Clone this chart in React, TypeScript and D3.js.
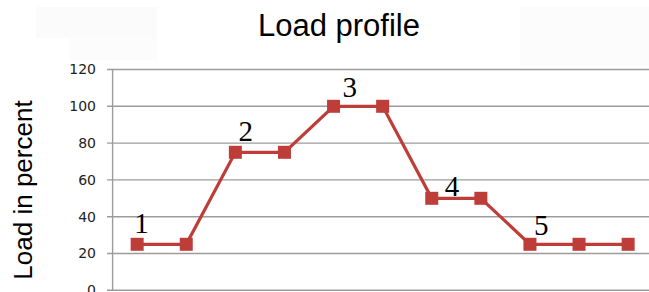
// Load profile line chart: hourly load in percent, with stage numbers
import React, { useEffect, useRef } from 'react';
import * as d3 from 'd3';

const loadValues = [25, 25, 75, 75, 100, 100, 50, 50, 25, 25, 25];
const yTicks = [0, 20, 40, 60, 80, 100, 120];

// stage numbers, placed in data units (category index, value)
const stageLabels = ['1', '2', '3', '4', '5'];
const stageAt = [0.09, 2.21, 4.33, 6.41, 8.23];
const stageValue = [31, 81, 105, 51.5, 30];

const width = 649;
const height = 292;
const red = '#bf3d39';
const grid = '#9c9c9c';

export default function App() {
  const ref = useRef<SVGSVGElement>(null);

  useEffect(() => {
    const svg = d3.select(ref.current);
    svg.selectAll('*').remove();

    const x = d3.scaleLinear().domain([-0.5, loadValues.length - 0.5]).range([112.6, 652.7]);
    const y = d3.scaleLinear().domain([0, 120]).range([290.3, 69.5]);

    // faint panels behind the title area
    svg.append('rect').attr('x', 36).attr('y', 7).attr('width', 121).attr('height', 31).attr('fill', '#fbfbfb');
    svg.append('rect').attr('x', 70).attr('y', 38).attr('width', 87).attr('height', 22).attr('fill', '#fcfcfc');
    svg.append('rect').attr('x', 520).attr('y', 7).attr('width', 129).attr('height', 58).attr('fill', '#fcfcfc');

    svg.append('text')
      .attr('x', 339).attr('y', 36)
      .attr('text-anchor', 'middle')
      .style('font-family', '"Liberation Sans", Arial, sans-serif')
      .style('font-size', '31px')
      .text('Load profile');

    svg.append('text')
      .attr('transform', 'translate(32,190) rotate(-90)')
      .attr('text-anchor', 'middle')
      .style('font-family', '"Liberation Sans", Arial, sans-serif')
      .style('font-size', '26px')
      .text('Load in percent');

    const g = svg.append('g');

    g.selectAll('.grid')
      .data(yTicks)
      .enter().append('line')
      .attr('class', 'grid')
      .attr('x1', 107).attr('x2', width)
      .attr('y1', d => y(d)).attr('y2', d => y(d))
      .attr('stroke', grid).attr('stroke-width', 1.4);

    g.append('line')
      .attr('x1', x(-0.5)).attr('x2', x(-0.5))
      .attr('y1', y(120)).attr('y2', y(0))
      .attr('stroke', grid).attr('stroke-width', 1.4);

    g.selectAll('.tick')
      .data(yTicks)
      .enter().append('text')
      .attr('class', 'tick')
      .attr('x', 96).attr('y', d => y(d))
      .attr('dy', '0.35em')
      .attr('text-anchor', 'end')
      .style('font-family', '"DejaVu Sans", sans-serif')
      .style('font-size', '14px')
      .attr('fill', '#222')
      .text(d => d);

    const line = d3.line<number>()
      .x((d, i) => x(i))
      .y(d => y(d));

    g.append('path')
      .datum(loadValues)
      .attr('d', line)
      .attr('fill', 'none')
      .attr('stroke', red)
      .attr('stroke-width', 3.2);

    g.selectAll('.pt')
      .data(loadValues)
      .enter().append('rect')
      .attr('class', 'pt')
      .attr('x', (d, i) => x(i) - 6.5)
      .attr('y', d => y(d) - 6.5)
      .attr('width', 13).attr('height', 13)
      .attr('fill', red);

    g.selectAll('.stage')
      .data(stageLabels)
      .enter().append('text')
      .attr('class', 'stage')
      .attr('x', (d, i) => x(stageAt[i]))
      .attr('y', (d, i) => y(stageValue[i]))
      .attr('text-anchor', 'middle')
      .style('font-family', '"Liberation Serif", "Times New Roman", serif')
      .style('font-size', '29px')
      .text(d => d);
  }, []);

  return (
    <svg ref={ref} width={width} height={height}
      style={{ position: 'absolute', left: 0, top: 0, background: '#fff' }} />
  );
}
